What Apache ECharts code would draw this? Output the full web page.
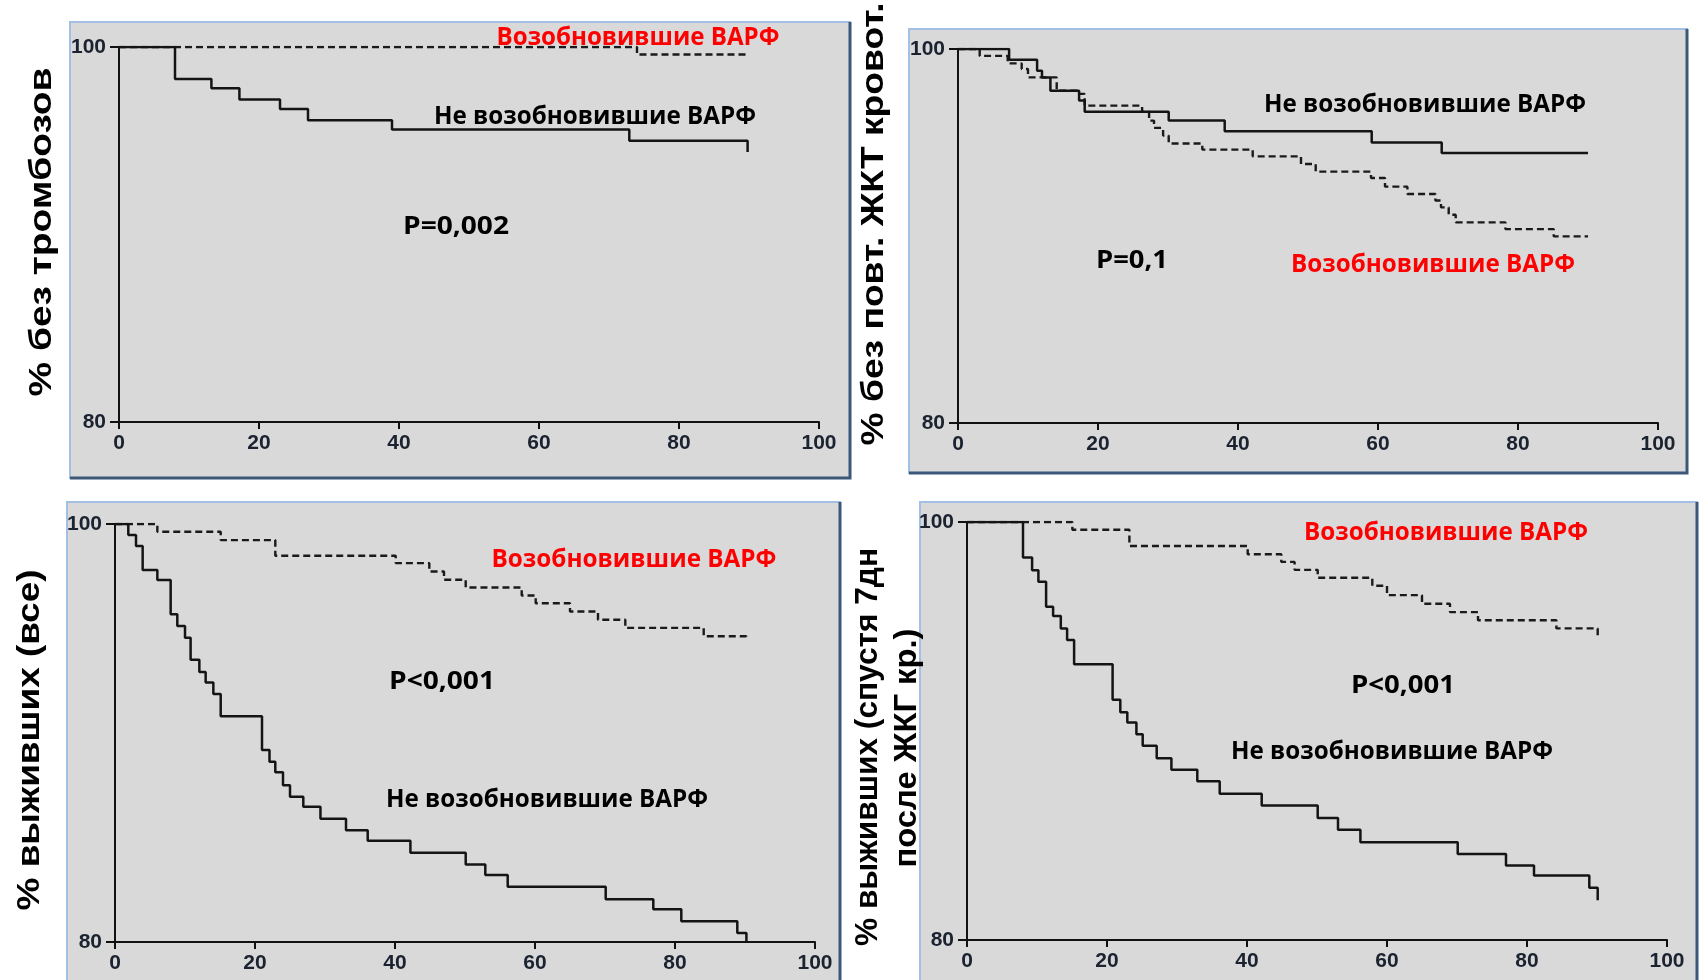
<!DOCTYPE html>
<html>
<head>
<meta charset="utf-8">
<script src="https://cdn.jsdelivr.net/npm/echarts@6/dist/echarts.min.js"></script>
<style>
html, body { margin: 0; padding: 0; background: #fff; }
#chart { width: 1701px; height: 980px; }
</style>
</head>
<body>
<div id="chart"></div>
<script>
// ---- data (months, % of patients) ----
var xTicks = [0, 20, 40, 60, 80, 100];
var yTicks = [80, 100];

// panel 1: % без тромбозов
var thrTimeNo  = [0, 8, 13.2, 17.2, 23, 27, 39, 72.9, 89.8, 89.8];
var thrPctNo   = [100, 98.3, 97.8, 97.2, 96.7, 96.1, 95.6, 95.0, 95.0, 94.4];
var thrTimeYes = [0, 74, 90];
var thrPctYes  = [100, 99.6, 99.6];

// panel 2: % без повт. ЖКТ кровот.
var bleedTimeNo  = [0, 7.3, 11.3, 12, 13.2, 17.3, 18.1, 30.1, 38.1, 59.1, 69.1, 90];
var bleedPctNo   = [100, 99.43, 98.84, 98.48, 97.77, 97.24, 96.65, 96.17, 95.6, 95.0, 94.44, 94.44];
var bleedTimeYes = [0, 3.1, 7.1, 9.1, 10, 14.1, 17.3, 18.1, 26.3, 27.3, 28, 29.3, 30.1, 34.9, 42.1, 49, 51.1, 59, 61, 64.2, 68.2, 69, 70.1, 71.1, 78.2, 85.1, 90];
var bleedPctYes  = [100, 99.63, 99.23, 98.93, 98.48, 97.77, 97.6, 96.97, 96.65, 96.17, 95.78, 95.37, 94.95, 94.62, 94.26, 93.85, 93.44, 93.1, 92.64, 92.25, 91.9, 91.53, 91.14, 90.73, 90.37, 89.98, 89.98];

// panel 3: % выживших (все)
var survTimeNo  = [0, 1.9, 3.0, 3.95, 6.05, 7.95, 8.9, 10, 10.8, 12.05, 12.95, 14.05, 15.1, 21, 22.07, 22.9, 24, 25, 26.9, 29.35, 33, 36.1, 42.2, 50.1, 52.9, 56.1, 70.1, 76.9, 80.9, 88.9, 90.2];
var survPctNo   = [100, 99.47, 98.95, 97.8, 97.32, 95.68, 95.12, 94.56, 93.5, 92.92, 92.42, 91.87, 90.8, 89.19, 88.63, 88.12, 87.5, 86.95, 86.47, 85.9, 85.35, 84.84, 84.27, 83.71, 83.2, 82.64, 82.04, 81.57, 80.99, 80.43, 80];
var survTimeYes = [0, 6.05, 15.1, 22.9, 40.1, 44.9, 47, 50.1, 58.1, 60.1, 65, 69, 72.9, 84.1, 90.2, 90.2];
var survPctYes  = [100, 99.63, 99.23, 98.48, 98.13, 97.73, 97.33, 96.96, 96.58, 96.21, 95.81, 95.42, 95.03, 94.63, 94.63, 94.42];

// panel 4: % выживших (спустя 7дн после ЖКГ кр.)
var lateTimeNo  = [0, 8, 9.3, 10.2, 11.3, 12.3, 13.4, 14.3, 15.3, 20.8, 21.9, 22.9, 24.2, 25.1, 27.1, 29.2, 32.9, 36.1, 42.1, 50.1, 53, 56.2, 70.1, 77, 81, 88.9, 90.1, 90.1];
var latePctNo   = [100, 98.3, 97.69, 97.14, 95.94, 95.5, 94.91, 94.35, 93.19, 91.49, 90.9, 90.41, 89.85, 89.29, 88.7, 88.15, 87.59, 87, 86.43, 85.84, 85.28, 84.68, 84.12, 83.56, 83.09, 82.5, 82.5, 81.9];
var lateTimeYes = [0, 15.05, 23.2, 40.1, 44.9, 46.8, 50.1, 57.9, 60, 65, 69, 73, 84.2, 90.1, 90.1];
var latePctYes  = [100, 99.63, 98.85, 98.46, 98.09, 97.71, 97.33, 96.95, 96.5, 96.09, 95.69, 95.3, 94.91, 94.91, 94.51];

var yTitles = ['% без тромбозов', '% без повт. ЖКТ кровот.', '% выживших (все)', '% выживших (спустя 7дн', 'после ЖКГ кр.)'];
var labelYes = 'Возобновившие ВАРФ';
var labelNo = 'Не возобновившие ВАРФ';
var pValues = ['P=0,002', 'P=0,1', 'P<0,001', 'P<0,001'];

// ---- layout ----
var grids = [
    { left: 119, top: 47, width: 700, height: 375 },
    { left: 958, top: 49, width: 700, height: 374 },
    { left: 115, top: 524, width: 700, height: 418 },
    { left: 967, top: 522, width: 700, height: 418 }
];
var panels = [
    [70, 22, 780, 456],
    [909, 29, 778, 444],
    [67, 502, 773, 500],
    [920, 502, 777, 500]
];

var measureCtx = document.createElement('canvas').getContext('2d');
function fitScale(text, weight, size, family, width) {
    measureCtx.font = weight + ' ' + size + 'px ' + family;
    return width / measureCtx.measureText(text).width;
}

var noteFont = '"Open Sans", "Liberation Sans", sans-serif';
var titleFont = '"Liberation Sans", Arial, sans-serif';

// text, colour, centre x, centre y, width on the picture
var notes = [
    [labelYes, '#ff0000', 638, 38, 283],
    [labelNo, '#000', 595, 117, 322],
    [pValues[0], '#000', 456, 227, 106],
    [labelNo, '#000', 1425, 105, 322],
    [pValues[1], '#000', 1132, 261, 72],
    [labelYes, '#ff0000', 1433, 265, 284],
    [labelYes, '#ff0000', 634, 560, 285],
    [pValues[2], '#000', 442, 682, 106],
    [labelNo, '#000', 547, 800, 322],
    [labelYes, '#ff0000', 1446, 533, 284],
    [pValues[3], '#000', 1403, 686, 104],
    [labelNo, '#000', 1392, 752, 322]
];
// title index, centre x, centre y, length on the picture
var titles = [
    [0, 42, 232, 329],
    [1, 874, 224, 443],
    [2, 30, 740, 341],
    [3, 868, 747, 398],
    [4, 907, 748, 239]
];

var graphics = [];
panels.forEach(function (p) {
    graphics.push({
        type: 'rect', z: -10, silent: true,
        shape: { x: p[0], y: p[1], width: p[2], height: p[3] },
        style: { fill: '#d9d9d9', stroke: '#a3c0e4', lineWidth: 2 }
    });
    graphics.push({
        type: 'polyline', z: -9, silent: true,
        shape: { points: [[p[0] + p[2], p[1]], [p[0] + p[2], p[1] + p[3]], [p[0], p[1] + p[3]]] },
        style: { stroke: '#3b5878', lineWidth: 3, fill: null }
    });
});
notes.forEach(function (n) {
    var size = 25;
    graphics.push({
        type: 'text', z: 50, silent: true,
        x: n[2], y: n[3],
        scaleX: fitScale(n[0], 'bold', size, noteFont, n[4]),
        style: {
            text: n[0], fill: n[1], fontSize: size, fontWeight: 'bold', fontFamily: noteFont,
            align: 'center', verticalAlign: 'middle'
        }
    });
});
titles.forEach(function (t) {
    var size = 32, text = yTitles[t[0]];
    graphics.push({
        type: 'text', z: 50, silent: true,
        x: t[1], y: t[2], rotation: Math.PI / 2,
        scaleX: fitScale(text, 'bold', size, titleFont, t[3]),
        style: {
            text: text, fill: '#000', fontSize: size, fontWeight: 'bold', fontFamily: titleFont,
            align: 'center', verticalAlign: 'middle'
        }
    });
});

function pairs(ts, ps) {
    return ts.map(function (t, i) { return [t, ps[i]]; });
}

var curves = [
    [0, thrTimeYes, thrPctYes, true], [0, thrTimeNo, thrPctNo, false],
    [1, bleedTimeYes, bleedPctYes, true], [1, bleedTimeNo, bleedPctNo, false],
    [2, survTimeYes, survPctYes, true], [2, survTimeNo, survPctNo, false],
    [3, lateTimeYes, latePctYes, true], [3, lateTimeNo, latePctNo, false]
];

var axisColor = '#111';
var tickFont = { fontSize: 21, color: '#1b2230', fontWeight: 'bold', fontFamily: titleFont };
var option = {
    animation: false,
    backgroundColor: '#fff',
    grid: grids,
    xAxis: grids.map(function (g, i) {
        return {
            gridIndex: i, type: 'value', min: xTicks[0], max: xTicks[xTicks.length - 1], interval: 20,
            axisLine: { show: true, lineStyle: { color: axisColor, width: 2 } },
            axisTick: { show: true, length: 7, lineStyle: { color: axisColor, width: 2 } },
            axisLabel: Object.assign({ margin: 11 }, tickFont),
            splitLine: { show: false }
        };
    }),
    yAxis: grids.map(function (g, i) {
        return {
            gridIndex: i, type: 'value', min: yTicks[0], max: yTicks[1], interval: 20,
            axisLine: { show: true, lineStyle: { color: axisColor, width: 2 } },
            axisTick: { show: true, length: 9, lineStyle: { color: axisColor, width: 2 } },
            axisLabel: Object.assign({ margin: 13 }, tickFont),
            splitLine: { show: false }
        };
    }),
    graphic: { elements: graphics },
    series: curves.map(function (c) {
        return {
            type: 'line', step: 'end', xAxisIndex: c[0], yAxisIndex: c[0],
            data: pairs(c[1], c[2]), symbol: 'none', silent: true,
            lineStyle: c[3]
                ? { color: '#1a1a1a', width: 2.4, type: [7, 4] }
                : { color: '#141414', width: 2.5 },
            z: c[3] ? 3 : 4
        };
    })
};

var chart = echarts.init(document.getElementById('chart'), null, { renderer: 'canvas' });
chart.setOption(option);
</script>
</body>
</html>
